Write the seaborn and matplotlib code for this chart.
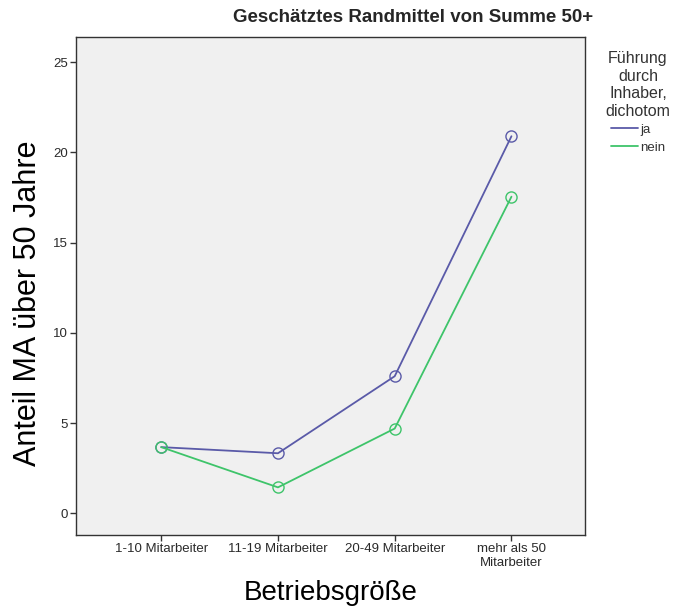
import numpy as np
import pandas as pd
import matplotlib
matplotlib.use("Agg")
import matplotlib.pyplot as plt
import seaborn as sns

groessen = ["1-10 Mitarbeiter", "11-19 Mitarbeiter", "20-49 Mitarbeiter", "mehr als 50\nMitarbeiter"]
ja_werte = [3.67, 3.33, 7.6, 20.9]
nein_werte = [3.67, 1.44, 4.7, 17.55]
gruppen = ["ja", "nein"]
farben = {"ja": "#5a5aa8", "nein": "#3ec46a"}

df = pd.DataFrame({
    "groesse": groessen * 2,
    "wert": ja_werte + nein_werte,
    "fuehrung": ["ja"] * 4 + ["nein"] * 4,
})

sns.set_style("white")
plt.rcParams["font.family"] = ["Liberation Sans", "DejaVu Sans"]

fig = plt.figure(figsize=(6.85, 6.07), dpi=100)
ax = fig.add_axes([76 / 685, 1 - 535 / 607, (585 - 76) / 685, (535 - 37) / 607])
ax.set_facecolor("#f0f0f0")

sns.lineplot(data=df, x="groesse", y="wert", hue="fuehrung", hue_order=gruppen,
             palette=farben, sort=False, marker="o", markersize=8,
             markerfacecolor="none", markeredgewidth=1.0, linewidth=1.3, ax=ax)

# seaborn paints marker edges white, give them the line colour again
for ln in ax.lines:
    ln.set_markeredgecolor(ln.get_color())
    ln.set_markerfacecolor("none")

ax.set_ylim(-1.2, 26.4)
ax.set_xlim(-0.73, 3.63)
ax.set_yticks([0, 5, 10, 15, 20, 25])
ax.tick_params(axis="both", labelsize=9.5, length=4, width=1, color="#333333",
               labelcolor="#2a2a2a", direction="out", bottom=True, left=True, pad=2)
for s in ax.spines.values():
    s.set_color("#333333")
    s.set_linewidth(1)

ax.set_xlabel("Betriebsgröße", fontsize=20, labelpad=8, color="black")
ax.set_ylabel("Anteil MA über 50 Jahre", fontsize=22, color="black")
ax.yaxis.set_label_coords(-0.064, 0.466)

fig.text(413 / 685, 1 - 17 / 607, "Geschätztes Randmittel von Summe 50+",
         ha="center", va="center", fontsize=13.5, fontweight="bold")

handles, labels = ax.get_legend_handles_labels()
for h in handles:
    h.set_marker("")
leg = ax.legend(handles, labels, title="Führung\ndurch\nInhaber,\ndichotom",
                loc="upper center", bbox_to_anchor=(1.104, 0.987), frameon=False,
                fontsize=9.5, title_fontsize=11.5, handlelength=2.1,
                handletextpad=0.15, labelspacing=0.4, borderaxespad=0.2,
                alignment="center")
leg.get_title().set_multialignment("center")
leg.get_title().set_linespacing(1.2)
leg.get_title().set_color("#333333")
for t in leg.get_texts():
    t.set_color("#333333")

fig.savefig("out.png", dpi=100, facecolor="white")
